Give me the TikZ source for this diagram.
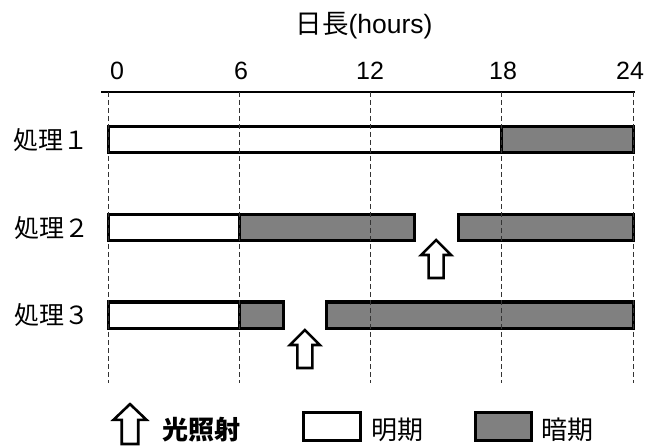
\documentclass[tikz,border=0pt]{standalone}
\usepackage{fontspec}
\setmainfont{Liberation Sans}
\newfontfamily\jp{Noto Sans CJK JP}
\definecolor{darkfill}{RGB}{128,128,128}
\tikzset{
  barbox/.style={line width=3pt, draw=black, line join=miter},
  lightbar/.style={barbox, fill=white},
  darkbar/.style={barbox, fill=darkfill},
  guide/.style={line width=0.9pt, dash pattern=on 5pt off 3pt, draw=black!80},
  arrowline/.style={line width=2.6pt, draw=black, fill=white, line join=miter},
  lightarrow/.pic={\draw[arrowline] (-7.5,0) -- (-7.5,-23) -- (-15,-23) -- (0,-38) -- (15,-23) -- (7.5,-23) -- (7.5,0) -- cycle;},
  numlabel/.style={font=\fontsize{25}{29}\selectfont, inner sep=0pt},
  rowlabel/.style={font=\jp\fontsize{25}{29}\selectfont, inner sep=0pt},
  legendlabel/.style={font=\jp\fontsize{26}{30}\selectfont, inner sep=0pt, anchor=west},
}
\newcommand\hx[1]{{108+21.875*(#1)}}
\begin{document}
\begin{tikzpicture}[x=1pt, y=-1pt]
\useasboundingbox (0,0) rectangle (645,446);
% title
\node[font=\fontsize{26.5}{31}\selectfont, inner sep=0pt] (title) at (364,26) {{\jp 日長}(hours)};
% tick labels
\node[numlabel] (t0) at (117,71) {0};
\node[numlabel] (t6) at (241,71) {6};
\node[numlabel] (t12) at (370,71) {12};
\node[numlabel] (t18) at (503,71) {18};
\node[numlabel] (t24) at (630,71) {24};
% axis line
\draw[line width=1.2pt] (101,92) -- (635,92);
% row labels
\node[rowlabel] (r1) at (51,140) {処理１};
\node[rowlabel] (r2) at (52,228) {処理２};
\node[rowlabel] (r3) at (52,315) {処理３};
% treatment 1
\draw[lightbar] (\hx{0},127) rectangle (\hx{18},153);
\draw[darkbar] (\hx{18},127) rectangle (\hx{24},153);
% treatment 2
\draw[lightbar] (\hx{0},215) rectangle (\hx{6},241);
\draw[darkbar] (\hx{6},215) rectangle (\hx{14},241);
\draw[darkbar] (\hx{16},215) rectangle (\hx{24},241);
% treatment 3
\draw[lightbar] (\hx{0},302) rectangle (\hx{6},328);
\draw[darkbar] (\hx{6},302) rectangle (\hx{8},328);
\draw[darkbar] (\hx{10},302) rectangle (\hx{24},328);
% guide lines
\foreach \h in {0,6,12,18,24}
  \draw[guide] (\hx{\h},92) -- (\hx{\h},383);
% light pulses
\pic at (\hx{15},278) {lightarrow};
\pic at (\hx{9},368) {lightarrow};
% legend
\pic[xscale=1.1, yscale=1.05] at (130,444) {lightarrow};
\node[legendlabel, font=\jp\bfseries\fontsize{26}{30}\selectfont] (lg1) at (162,430) {光照射};
\draw[lightbar] (303,412) rectangle (360,440);
\node[legendlabel] (lg2) at (371,430) {明期};
\draw[darkbar] (475,412) rectangle (531,440);
\node[legendlabel] (lg3) at (541,430) {暗期};
\end{tikzpicture}
\end{document}
